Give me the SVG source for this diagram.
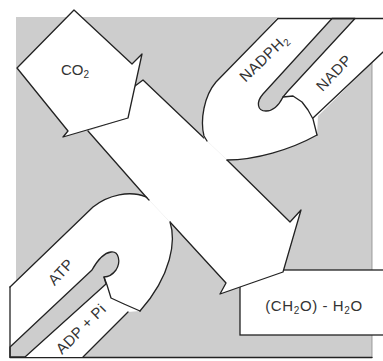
<svg xmlns="http://www.w3.org/2000/svg" width="383" height="361" viewBox="0 0 383 361">
  <style>
    .ln { fill: none; stroke: #222; stroke-width: 1.3; stroke-linejoin: round; stroke-linecap: round; }
    .wf { fill: #fff; stroke: none; }
    .gf { fill: #cdcdcd; }
    .gs { fill: #cdcdcd; stroke: #222; stroke-width: 1.3; stroke-linejoin: round; }
    .lbl { font-family: "Liberation Sans", Arial, sans-serif; font-size: 15px; fill: #333; text-anchor: middle; }
  </style>

  <rect width="383" height="361" fill="#fff"/>

  <!-- shaded stroma field -->
  <g id="field">
    <rect class="gf" x="16" y="17" width="356" height="341"/>
    <path d="M372,62 V358" stroke="#888" stroke-width="0.8" fill="none"/>
    <path class="ln" d="M10,357.5 H372"/>
  </g>

  <!-- product box -->
  <g id="product">
    <rect x="240" y="270" width="150" height="65" fill="#fff" stroke="#222" stroke-width="1.3"/>
    <text class="lbl" x="314" y="310.5" letter-spacing="0.6">(CH<tspan dy="3" font-size="10">2</tspan><tspan dy="-3">O) - H</tspan><tspan dy="3" font-size="10">2</tspan><tspan dy="-3">O</tspan></text>
  </g>

  <!-- main diagonal flow, CO2 towards product -->
  <g id="main-flow">
    <path class="wf" d="M135,86 L143,80 L204,138 L227,160 L290,222 L301,210 L283,272 L220,294 L226,283 L170,222 L147,198 L88,131 L128,118 Z"/>
    <path class="ln" d="M135,86 L143,80 L204,138"/>
    <path class="ln" d="M227,160 L290,222 L301,210 L283,272 L220,294 L226,283 L170,222"/>
    <path class="ln" d="M147,198 L88,131"/>
  </g>

  <!-- NADPH2 in, NADP out -->
  <g id="nadph-loop">
    <path class="wf" d="M278,17 L383,17 L383,52 L318,116 L317,135 C290,150 255,160 227,160 L204,138 C200,120 204,96 216,82 Z"/>
    <path class="gs" d="M332,18.5 L263,94 C256,102 257,111 266,111 C273,111 279,105 283,97 L288,91 L355,18.5 Z"/>
    <path class="ln" d="M278,18.5 H383"/>
    <path class="ln" d="M278,18.5 L216,82 C204,96 200,120 204,136 L207,141"/>
    <path class="ln" d="M227,160 C255,160 290,150 317,135"/>
    <path class="ln" d="M317,135 L313,119 L308,110 L302,102 L293,96 L283,97"/>
    <path class="ln" d="M383,52 L313,118"/>
    <text class="lbl" transform="translate(264,58) rotate(-44)" y="5" letter-spacing="0.5">NADPH<tspan dy="3" font-size="10">2</tspan></text>
    <text class="lbl" transform="translate(334,73) rotate(-46)" y="5" letter-spacing="0.5">NADP</text>
  </g>

  <!-- ATP in, ADP + Pi out -->
  <g id="atp-loop">
    <path class="wf" d="M10,287 L93,207 C108,195 130,190 147,198 L170,222 C176,240 172,275 140,311 L128,312 L83,357 L10,357 Z"/>
    <path class="gs" d="M10,347 L92,270 C97,261 103,253 111,252 C119,251 121,262 116,270 C113,274 108,277 104,277 L106,284 L25,357 L10,357 Z"/>
    <path class="ln" d="M10,287 V357"/>
    <path class="ln" d="M10,287 L93,207 C108,195 130,190 146,197 L149,200"/>
    <path class="ln" d="M170,222 C176,240 172,275 140,311"/>
    <path class="ln" d="M140,311 L124,304 L111,298 L107,285 L104,277"/>
    <path class="ln" d="M128,312 L83,357"/>
    <text class="lbl" transform="translate(61,272) rotate(-47)" y="5" letter-spacing="0.5">ATP</text>
    <text class="lbl" transform="translate(81,329) rotate(-45)" y="5" letter-spacing="0.3">ADP + Pi</text>
  </g>

  <!-- CO2 intake arrow -->
  <g id="co2">
    <path d="M74,10 L132,64 L142,54 L135,86 L128,118 L63,137 L68,131 L17,68 Z" fill="#fff" stroke="#222" stroke-width="1.3" stroke-linejoin="round"/>
    <text class="lbl" x="75" y="75">CO<tspan dy="3" font-size="10">2</tspan></text>
  </g>
</svg>
